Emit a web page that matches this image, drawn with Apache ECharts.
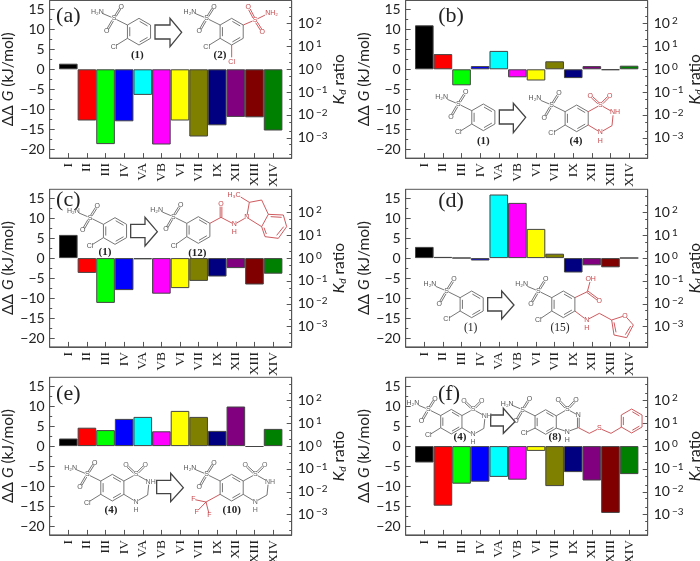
<!DOCTYPE html>
<html><head><meta charset="utf-8">
<style>html,body{margin:0;padding:0;background:#fff}#c{width:700px;height:561px}</style>
<script src="https://cdn.jsdelivr.net/npm/echarts@6/dist/echarts.min.js"></script>
</head><body><div id="c"></div>
<script>
const categories = ['I','II','III','IV','VA','VB','VI','VII','IX','XII','XIII','XIV'];
const colors = ['#000000','#ff0000','#00ff00','#0000ff','#00ffff','#ff00ff','#ffff00','#808000','#000080','#800080','#800000','#008000'];
const valuesA = [1.4,-12.8,-18.7,-13,-6.4,-18.8,-12.8,-16.8,-14,-11.9,-12,-15.3];
const valuesB = [11,3.8,-4,0.8,4.6,-2,-2.8,2,-2.2,0.8,-0.2,0.9];
const valuesC = [5.8,-3.7,-11.2,-8,-0.3,-8.9,-7.5,-5.7,-4.6,-2.5,-6.6,-3.9];
const valuesD = [2.8,0.3,0.05,-0.6,15.9,13.8,7.3,1.1,-3.6,-1.8,-2.3,0.05];
const valuesE = [1.9,4.6,4,6.8,7.3,3.7,8.8,7.3,3.8,9.9,-0.2,4.3];
const valuesF = [-4.1,-14.9,-9.4,-8.9,-7.7,-8.4,-1.2,-10,-6.5,-8.6,-16.7,-7];
const panelValues = [valuesA,valuesB,valuesC,valuesD,valuesE,valuesF];
const leftTicks = [-20,-15,-10,-5,0,5,10,15];
const leftMinor = [-22.5,-17.5,-12.5,-7.5,-2.5,2.5,7.5,12.5];
const ratioExponents = [-3,-2,-1,0,1,2];
const yMin = -22.2, yMax = 17.2, kJperDecade = 5.71;

const SANS = 'Lato, "Noto Sans", sans-serif';
const SERIF = '"Liberation Serif", serif';
const FRAME = '#555555';
const panels = [
  {l:49.7,t:0.5},{l:405.7,t:0.5},
  {l:49.7,t:189.3},{l:405.7,t:189.3},
  {l:49.7,t:377.3},{l:405.7,t:377.3}
];
const W = 242, H = 157.6;

const minorExp = [];
for (let n=-4;n<=3;n++){ minorExp.push(n+Math.log10(2), n+Math.log10(5)); }
const eMin = yMin/kJperDecade, eMax = yMax/kJperDecade;
const minorInRange = minorExp.filter(v=>v>eMin && v<eMax);

const grids=[],xAxes=[],yAxes=[],series=[];
panels.forEach((p,i)=>{
  grids.push({left:p.l,top:p.t,width:W,height:H,show:true,borderColor:FRAME,borderWidth:1,backgroundColor:'transparent',outerBoundsMode:'none',containLabel:false});
  xAxes.push({gridIndex:i,type:'value',min:0,max:13,interval:1,position:'bottom',
    splitLine:{show:false},
    axisLine:{onZero:false,lineStyle:{color:FRAME}},
    axisTick:{inside:true,length:5,lineStyle:{color:FRAME}},
    axisLabel:{rotate:90,margin:5,fontFamily:SERIF,fontSize:13.5,color:'#222',hideOverlap:false,
      formatter:v=>categories[v-1]||''}
  });
  const yBase = yAxes.length;
  yAxes.push({gridIndex:i,type:'value',min:yMin,max:yMax,position:'left',splitLine:{show:false},
    name:'{a|ΔΔ }{i|G}{a| (kJ/mol)}',nameLocation:'middle',nameRotate:90,nameGap:33,
    nameTextStyle:{rich:{a:{fontFamily:SANS,fontSize:15.5,color:'#222'},i:{fontFamily:SANS,fontStyle:'italic',fontSize:15.5,color:'#222'}}},
    axisLine:{show:true,onZero:false,lineStyle:{color:FRAME}},
    axisTick:{inside:true,length:5,customValues:leftTicks,lineStyle:{color:FRAME}},
    axisLabel:{customValues:leftTicks,margin:5,fontFamily:SANS,fontSize:14,color:'#222',
      formatter:v=>String(v).replace('-','\u2212')}
  });
  yAxes.push({gridIndex:i,type:'value',min:yMin,max:yMax,position:'left',splitLine:{show:false},
    axisLine:{show:false},
    axisTick:{inside:true,length:2.5,customValues:leftMinor.filter(v=>v>yMin),lineStyle:{color:FRAME}},
    axisLabel:{show:false}
  });
  yAxes.push({gridIndex:i,type:'value',min:eMin,max:eMax,position:'right',splitLine:{show:false},
    name:'{i|K}{s|d}{a| ratio}',nameLocation:'middle',nameRotate:90,nameGap:37,
    nameTextStyle:{rich:{a:{fontFamily:SANS,fontSize:15.5,color:'#222'},i:{fontFamily:SANS,fontStyle:'italic',fontSize:15.5,color:'#222'},s:{fontFamily:SANS,fontStyle:'italic',fontSize:10,color:'#222',verticalAlign:'bottom',padding:[4,0,0,0]}}},
    axisLine:{show:true,onZero:false,lineStyle:{color:FRAME}},
    axisTick:{inside:true,length:5,customValues:ratioExponents,lineStyle:{color:FRAME}},
    axisLabel:{customValues:ratioExponents,margin:6,
      formatter:v=>'{b|10}{e|'+String(v).replace('-','\u2212')+'}',
      rich:{b:{fontFamily:SANS,fontSize:14,color:'#222'},e:{fontFamily:SANS,fontSize:10,color:'#222',verticalAlign:'top',padding:[0,0,5,2]}}}
  });
  yAxes.push({gridIndex:i,type:'value',min:eMin,max:eMax,position:'right',splitLine:{show:false},
    axisLine:{show:false},
    axisTick:{inside:true,length:2.5,customValues:minorInRange,lineStyle:{color:FRAME}},
    axisLabel:{show:false}
  });
  series.push({type:'bar',xAxisIndex:i,yAxisIndex:yBase,barWidth:18.6,silent:true,animation:false,
    data:panelValues[i].map((v,j)=>({value:[j+1,v],itemStyle:{color:colors[j],borderColor:'#444',borderWidth:1}}))});
});

/* ---------- chemical structure annotations (pixel drawing, not data) ---------- */
const els=[]; let OX=0,OY=0;
const GR='#666666', RD='#c8474c';
const px=x=>OX+x/3, py=y=>OY+y/3;
function L(p,q,c=GR){
  let [x1,y1,g1=0]=p,[x2,y2,g2=0]=q;
  const d=Math.hypot(x2-x1,y2-y1)||1,ux=(x2-x1)/d,uy=(y2-y1)/d;
  x1+=ux*g1;y1+=uy*g1;x2-=ux*g2;y2-=uy*g2;
  els.push({type:'line',z:50,silent:true,shape:{x1:px(x1),y1:py(y1),x2:px(x2),y2:py(y2)},style:{stroke:c,lineWidth:0.9}});
}
function D(p,q,c=GR,o=2.6){
  const d=Math.hypot(q[0]-p[0],q[1]-p[1])||1,nx=-(q[1]-p[1])/d*o,ny=(q[0]-p[0])/d*o;
  L([p[0]+nx,p[1]+ny,p[2]],[q[0]+nx,q[1]+ny,q[2]],c);
  L([p[0]-nx,p[1]-ny,p[2]],[q[0]-nx,q[1]-ny,q[2]],c);
}
function T(p,s,c='#555',size=7,font='"Liberation Sans",sans-serif',weight='normal'){
  els.push({type:'text',z:60,silent:true,style:{text:s,x:px(p[0]),y:py(p[1]),align:'center',verticalAlign:'middle',textAlign:'center',textVerticalAlign:'middle',fontSize:size,fontFamily:font,fontWeight:weight,fill:c}});
}
function lab(p,s,bold=true){T(p,s,'#222',bold?11:11.5,SERIF,bold?'bold':'normal');}
function letter(p,s){T(p,s,'#222',22,SERIF);}
function hex(cx,cy,r,c,dbl){
  const v=[];for(let i=0;i<6;i++){const a=(-90+60*i)*Math.PI/180;v.push([cx+r*Math.cos(a),cy+r*Math.sin(a)]);}
  for(let i=0;i<6;i++){L(v[i],v[(i+1)%6],c);}
  (dbl||[]).forEach(i=>{const a=v[i],b=v[(i+1)%6],s=0.8;
    const a2=[cx+(a[0]-cx)*s,cy+(a[1]-cy)*s],b2=[cx+(b[0]-cx)*s,cy+(b[1]-cy)*s];
    const mx=(a2[0]+b2[0])/2,my=(a2[1]+b2[1])/2;
    L([mx+(a2[0]-mx)*.85,my+(a2[1]-my)*.85],[mx+(b2[0]-mx)*.85,my+(b2[1]-my)*.85],c);});
  return v;
}
function sulfa(cx,cy,k,v){
  const S=[cx-75*k,cy-40*k,8];
  L(v[5],S);T(S,'S');
  const N=[cx-122*k,cy-60*k,13];L(S,[N[0]+2,N[1]+1,13]);T([N[0]-3,N[1]],'H\u2082N');
  const O1=[cx-53*k,cy-75*k,7],O2=[cx-97*k,cy-2*k,7];
  D(S,O1);T(O1,'O');D(S,O2);T(O2,'O');
}
function cmp1(cx,cy,k=1){
  const v=hex(cx,cy,40*k,GR,[0,2,4]);sulfa(cx,cy,k,v);
  const Cl=[cx-75*k,cy+45*k,9];L(v[4],Cl);T(Cl,'Cl');
}
function thia(cx,cy,k,c,withCl=true,bold=true){
  const v=hex(cx,cy,40*k,GR,[0,2,4]);sulfa(cx,cy,k,v);
  if(withCl){const Cl=[cx-75*k,cy+45*k,9];L(v[4],Cl);T(Cl,'Cl');}
  const S=[cx+71*k,cy-40*k,8],O1=[cx+41*k,cy-68*k,7],O2=[cx+99*k,cy-68*k,7];
  const N1=[cx+110*k,cy-18*k,9],C=[cx+106*k,cy+22*k],N2=[cx+71*k,cy+42*k,8],H=[cx+71*k,cy+67*k];
  L(v[1],S,c);T(S,'S',c);D(S,O1,c);T(O1,'O',c);D(S,O2,c);T(O2,'O',c);
  L(S,N1,c);T([N1[0]+5,N1[1]],'NH',c);L(N1,C,c);L(C,N2,c);T(N2,'N',c);T(H,'H',c);L(N2,v[2],c);
}
function arrow(pts){
  els.push({type:'polygon',z:50,silent:true,shape:{points:pts.map(p=>[px(p[0]),py(p[1])])},style:{fill:'#fff',stroke:'#444',lineWidth:1.3}});
}

/* (a) */
OX=0;OY=0;
letter([205,48],'(a)');
cmp1(417,95);lab([412,165],'(1)');
arrow([[465,75],[510,75],[510,55],[545,97],[510,140],[510,117],[465,117]]);
{const cx=695,cy=95;const v=hex(cx,cy,40,GR,[0,2,4]);sulfa(cx,cy,1,v);
 const Cl=[620,140,9];L(v[4],Cl);T(Cl,'Cl');
 const S=[765,60,8];L(v[1],S,RD);T(S,'S',RD);
 const O1=[745,22,7],O2=[787,95,7];D(S,O1,RD);T(O1,'O',RD);D(S,O2,RD);T(O2,'O',RD);
 L(S,[802,42,8],RD);T([815,38],'NH\u2082',RD);
 L(v[3],[695,172],RD);T([695,185],'Cl',RD);
 lab([660,165],'(2)');}
/* (b) */
OX=350;OY=0;
letter([303,50],'(b)');
cmp1(400,352);lab([400,424],'(1)');
arrow([[448,330],[490,330],[490,310],[527,352],[490,398],[490,372],[448,372]]);
thia(680,355,1,RD);lab([678,424],'(4)');
/* (c) */
OX=0;OY=185;
letter([205,47],'(c)');
cmp1(345,138);lab([315,202],'(1)');
arrow([[392,118],[435,118],[435,97],[472,140],[435,183],[435,158],[392,158]]);
{const cx=595,cy=135;const v=hex(cx,cy,40,GR,[0,2,4]);sulfa(cx,cy,1,v);
 const Cl=[522,182,9];L(v[4],Cl);T(Cl,'Cl');
 const C=[663,97],O=[663,58,7],N=[703,118,7],N2=[740,97,7];
 L(v[1],C,RD);D(C,O,RD);T(O,'O',RD);L(C,N,RD);T(N,'N',RD);T([703,142],'H',RD);L(N,N2,RD);T(N2,'N',RD);
 const a=[748,52],b=[785,45],c=[805,88],d=[785,125];
 L(N2,a,RD);L(a,b,RD);L(b,c,RD);L(c,d,RD);L(d,N2,RD);L(a,[722,36,0],RD);T([702,30],'H\u2083C',RD);
 const e=[850,90],f=[860,125],g=[835,160],h=[795,155];
 L(c,e,RD);L(e,f,RD);L(f,g,RD);L(g,h,RD);L(h,d,RD);
 L([812,95],[845,97],RD);L([851,125],[830,151],RD);L([799,147],[792,128],RD);
 lab([592,203],'(12)');}
/* (d) */
OX=350;OY=185;
letter([303,48],'(d)');
cmp1(365,358);lab([362,430],'(1)',false);
arrow([[413,338],[455,338],[455,318],[492,360],[455,402],[455,378],[413,378]]);
{const cx=640,cy=358;const v=hex(cx,cy,40,GR,[0,2,4]);sulfa(cx,cy,1,v);
 const Cl=[565,405,9];L(v[4],Cl);T(Cl,'Cl');
 const C=[712,320],OH=[722,283,8],O=[748,347,7];
 L(v[1],C,RD);L(C,OH,RD);T(OH,'OH',RD);D(C,O,RD);T(O,'O',RD);
 const N=[710,405,8];L(v[2],N,RD);T(N,'N',RD);T([710,430],'H',RD);
 const c1=[748,385],c2=[785,405],o=[825,392,7],p=[850,420],q=[830,458],r=[792,450];
 L(N,c1,RD);L(c1,c2,RD);L(c2,o,RD);T(o,'O',RD);L(o,p,RD);L(p,q,RD);L(q,r,RD);L(r,c2,RD);
 L([842,423],[826,449],RD);L([798,442],[792,412],RD);
 lab([630,430],'(15)',false);}
/* (e) */
OX=0;OY=371;
letter([205,70],'(e)');
thia(337,350,1,GR);lab([333,418],'(4)');
arrow([[470,328],[512,328],[512,307],[550,350],[512,392],[512,368],[470,368]]);
thia(695,350,1,GR,false);
{const a=[660,370],C=[618,393];L(a,C,RD);
 const F1=[580,385,6],F2=[590,422,6],F3=[628,432,6];
 L(C,F1,RD);T(F1,'F',RD);L(C,F2,RD);T(F2,'F',RD);L(C,F3,RD);T(F3,'F',RD);}
lab([695,418],'(10)');
/* (f) */
OX=350;OY=371;
letter([297,70],'(f)');
thia(304,152,0.92,GR);lab([330,198],'(4)');
arrow([[422,132],[460,132],[460,112],[495,152],[460,187],[460,165],[422,165]]);
{const k=0.92,cx=587,cy=153;const v=hex(cx,cy,40*k,GR,[0,2,4]);sulfa(cx,cy,k,v);
 const Cl=[522,187,9];L(v[4],Cl);T(Cl,'Cl');
 const S=[652,115,8],O1=[625,87,7],O2=[678,87,7];L(v[1],S);T(S,'S');D(S,O1);T(O1,'O');D(S,O2);T(O2,'O');
 const N=[685,133,7],C=[685,170],N2=[652,182,8];L(S,N);T(N,'N');D(N,C);L(C,N2);T(N2,'N');T([652,207],'H');L(N2,v[2]);
 const a=[718,187],Sb=[748,172,7],b=[783,187];
 L(C,a,RD);L(a,Sb,RD);T(Sb,'S',RD);L(Sb,b,RD);
 L(b,[815,168],RD);hex(845,150,36,RD,[0,2,4]);
 lab([615,198],'(8)');}

const chart=echarts.init(document.getElementById('c'),null,{renderer:'canvas'});
chart.setOption({animation:false,backgroundColor:'#fff',grid:grids,xAxis:xAxes,yAxis:yAxes,series:series,graphic:{elements:els}});
</script></body></html>
